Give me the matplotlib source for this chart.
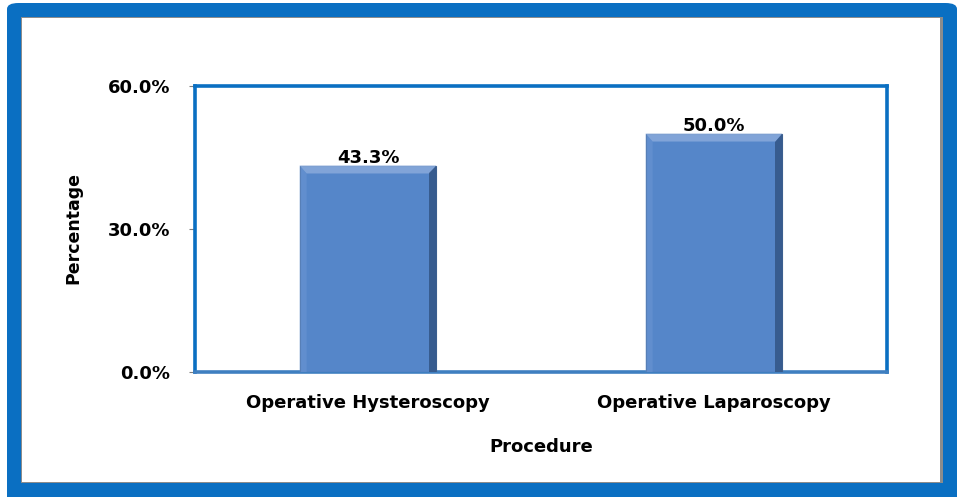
import matplotlib.pyplot as plt
from matplotlib.patches import FancyBboxPatch, Rectangle, Polygon

procedures = ['Operative Hysteroscopy', 'Operative Laparoscopy']
percent = [43.3, 50.0]
yticks = [0, 30, 60]

W, H = 960, 497
fig = plt.figure(figsize=(W / 100, H / 100), dpi=100)
fig.patch.set_facecolor('white')


def fx(px):
    return px / W


def fy(py):
    # py measured from top
    return 1 - py / H


# outer blue frame
fig.patches.append(FancyBboxPatch((fx(7), fy(505)), fx(950), 502 / H,
                                  boxstyle='round,pad=0,rounding_size=0.012',
                                  transform=fig.transFigure, facecolor='#0A6FC2',
                                  edgecolor='none', zorder=0))
fig.patches.append(Rectangle((fx(21), fy(483)), fx(922), 466 / H,
                             transform=fig.transFigure, facecolor='#8C8C8C',
                             edgecolor='none', zorder=0.5))
fig.patches.append(Rectangle((fx(22), fy(482)), fx(918), 464 / H,
                             transform=fig.transFigure, facecolor='white',
                             edgecolor='none', zorder=1))

ax = fig.add_axes([fx(195), fy(372), fx(692), 286 / H], zorder=2)
ax.set_facecolor('white')

x = list(range(len(procedures)))
bw = 0.395
bars = ax.bar(x, percent, width=bw, color='#5586C9', edgecolor='#3B5F8F',
              linewidth=0.8, zorder=3)

# bevel look on the bars
fig.canvas.draw()
to_px = ax.transData
from_px = ax.transData.inverted()
bev = 9
for b in bars:
    (x0, y0), (x1, y1) = to_px.transform([(b.get_x(), 0), (b.get_x() + b.get_width(), b.get_height())])
    top = [(x0, y1), (x1, y1), (x1 - bev, y1 - bev), (x0 + bev, y1 - bev)]
    right = [(x1, y1), (x1, y0), (x1 - bev, y0), (x1 - bev, y1 - bev)]
    left = [(x0, y1), (x0 + bev, y1 - bev), (x0 + bev, y0), (x0, y0)]
    for poly, col, a in [(top, '#86A8DA', 0.9), (right, '#2E4E7C', 0.75), (left, '#6A95D2', 0.6)]:
        ax.add_patch(Polygon(from_px.transform(poly), closed=True, facecolor=col,
                             edgecolor='none', alpha=a, zorder=4))

ax.set_xlim(-0.5, 1.5)
ax.set_ylim(0, 60)
ax.set_yticks(yticks)
ax.set_yticklabels([f'{v:.1f}%' for v in yticks], fontsize=13, fontweight='bold')
ax.set_xticks(x)
ax.set_xticklabels(procedures, fontsize=13, fontweight='bold')
ax.tick_params(axis='x', length=0, pad=16)
ax.tick_params(axis='y', length=4, color='#7F7F7F', pad=14)

for s in ax.spines.values():
    s.set_color('#0A6FC2')
    s.set_linewidth(2.6)
ax.spines['bottom'].set_color('#3F7FC0')

for xi, v in zip(x, percent):
    ax.text(xi, v - 0.2, f'{v:.1f}%', ha='center', va='bottom',
            fontsize=13, fontweight='bold', zorder=5)

fig.text(fx(73), fy(228), 'Percentage', rotation=90, ha='center', va='center',
         fontsize=12.5, fontweight='bold')
fig.text(fx(541), fy(447), 'Procedure', ha='center', va='center',
         fontsize=13, fontweight='bold')

fig.savefig('out.png', dpi=100)
